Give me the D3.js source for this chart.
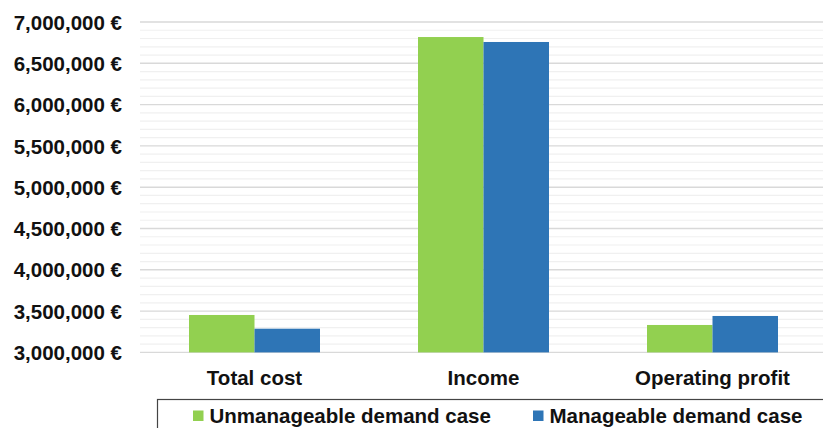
<!DOCTYPE html>
<html><head><meta charset="utf-8">
<script src="https://cdn.jsdelivr.net/npm/d3@7/dist/d3.min.js"></script>
<style>body{margin:0;background:#fff}svg{display:block}text{font-family:"Liberation Sans",Arial,sans-serif;font-weight:bold;fill:#111}</style>
</head><body><svg id="c" width="823" height="428"></svg>
<script>
const categories = ["Total cost", "Income", "Operating profit"];
const seriesNames = ["Unmanageable demand case", "Manageable demand case"];
const unmanageable = [3453000, 6818000, 3332000];
const manageable = [3287000, 6758000, 3441000];
const yTicks = [3000000, 3500000, 4000000, 4500000, 5000000, 5500000, 6000000, 6500000, 7000000];
const colors = ["#92d050", "#2e75b6"];

const svg = d3.select("#c");
const y = d3.scaleLinear().domain([3000000, 7000000]).range([352.4, 22]);
const x = d3.scaleBand().domain(categories).range([140, 827]).paddingInner(0.428).paddingOuter(0.214);
const xs = d3.scaleBand().domain(seriesNames).range([0, x.bandwidth()]);
const fs = "20.5px";

// minor gridlines
const minor = d3.range(3000000, 7000001, 100000).filter(v => v % 500000 !== 0);
svg.append("g").selectAll("line").data(minor).join("line")
  .attr("x1", 140).attr("x2", 823).attr("y1", d => y(d)).attr("y2", d => y(d))
  .attr("stroke", "#f0f0f0").attr("stroke-width", 1.2);
// major gridlines
svg.append("g").selectAll("line").data(yTicks).join("line")
  .attr("x1", 140).attr("x2", 823).attr("y1", d => y(d)).attr("y2", d => y(d))
  .attr("stroke", "#d9d9d9").attr("stroke-width", 1.4);

// y axis labels
const yAxis = d3.axisLeft(y).tickValues(yTicks).tickSize(0).tickPadding(0)
  .tickFormat(d => d3.format(",")(d) + " €");
const ga = svg.append("g").attr("transform", "translate(122,0)").call(yAxis);
ga.select(".domain").remove();
ga.selectAll("text").style("font-size", fs).style("font-family", '"Liberation Sans",Arial,sans-serif').style("font-weight", "bold").attr("fill", "#111").attr("dy", "0.35em");

// bars
const data = [unmanageable, manageable];
data.forEach((vals, si) => {
  svg.append("g").selectAll("rect").data(vals).join("rect")
    .attr("x", (d, i) => x(categories[i]) + xs(seriesNames[si]))
    .attr("width", xs.bandwidth())
    .attr("y", d => y(d))
    .attr("height", d => y(3000000) - y(d))
    .attr("fill", colors[si]);
});

// x labels
const xAxis = d3.axisBottom(x).tickSize(0).tickPadding(0);
const gx = svg.append("g").attr("transform", "translate(0,385)").call(xAxis);
gx.select(".domain").remove();
gx.selectAll("text").style("font-size", fs).style("font-family", '"Liberation Sans",Arial,sans-serif').style("font-weight", "bold").attr("fill", "#111").attr("dy", "0");

// legend
svg.append("rect").attr("x", 157.5).attr("y", 399.5).attr("width", 700).attr("height", 60)
  .attr("fill", "none").attr("stroke", "#444").attr("stroke-width", 1.2);
const legX = [193, 533];
seriesNames.forEach((n, i) => {
  svg.append("rect").attr("x", legX[i]).attr("y", 410.5).attr("width", 10.5).attr("height", 10.5).attr("fill", colors[i]);
  svg.append("text").attr("x", legX[i] + 16.5).attr("y", 423).style("font-size", fs).text(n);
});
</script></body></html>
